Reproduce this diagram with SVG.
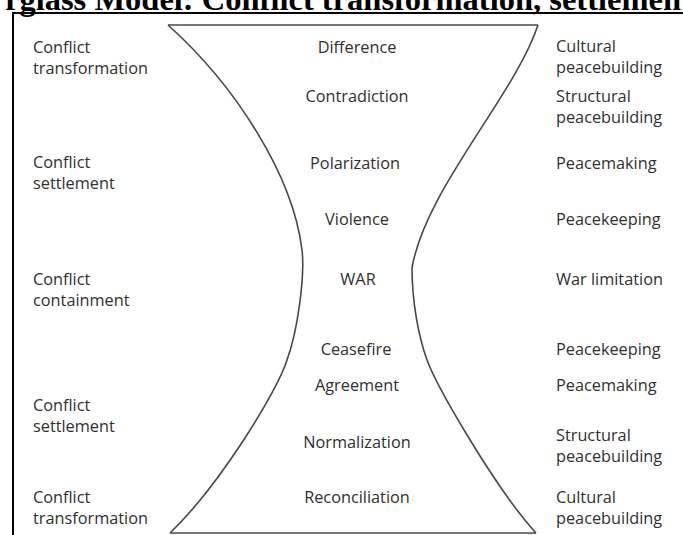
<svg xmlns="http://www.w3.org/2000/svg" width="683" height="535" viewBox="0 0 683 535">
<style>
.t{font-family:"Open Sans","Noto Sans",sans-serif;font-size:16.3px;fill:#303030}
.c{text-anchor:middle}
.title{font-family:"Liberation Serif","Times New Roman",serif;font-weight:bold;font-size:32.5px;fill:#000}
.hg{fill:none;stroke:#484848;stroke-width:1.6}
</style>
<rect width="683" height="535" fill="#fff"/>
<text class="title" x="5" y="10">rglass Model: Conflict transformation, settlemen</text>
<rect x="13" y="13" width="700" height="540" fill="none" stroke="#000" stroke-width="2"/>
<g id="hourglass">
<path class="hg" d="M168,25 L538,25"/>
<path class="hg" d="M170,533 L536,533"/>
<path class="hg" d="M168,25 C235,85 293,175 302,250 C305,275 298,330 287,360 C278,390 220,485 170,533"/>
<path class="hg" d="M538,25 C515,95 425,190 412,268 C412,300 418,335 427,360 C436,385 495,488 536,533"/>
</g>
<g id="left-labels">
<text class="t" x="33" y="53">Conflict</text>
<text class="t" x="33" y="74">transformation</text>
<text class="t" x="33" y="168">Conflict</text>
<text class="t" x="33" y="189">settlement</text>
<text class="t" x="33" y="285">Conflict</text>
<text class="t" x="33" y="306">containment</text>
<text class="t" x="33" y="411">Conflict</text>
<text class="t" x="33" y="432">settlement</text>
<text class="t" x="33" y="503">Conflict</text>
<text class="t" x="33" y="524">transformation</text>
</g>
<g id="center-labels">
<text class="t c" x="357" y="53">Difference</text>
<text class="t c" x="357" y="102">Contradiction</text>
<text class="t c" x="355" y="169">Polarization</text>
<text class="t c" x="357" y="225">Violence</text>
<text class="t c" x="358" y="285">WAR</text>
<text class="t c" x="356" y="355">Ceasefire</text>
<text class="t c" x="357" y="391">Agreement</text>
<text class="t c" x="357" y="448">Normalization</text>
<text class="t c" x="357" y="503">Reconciliation</text>
</g>
<g id="right-labels">
<text class="t" x="556" y="52">Cultural</text>
<text class="t" x="556" y="73">peacebuilding</text>
<text class="t" x="556" y="102">Structural</text>
<text class="t" x="556" y="123">peacebuilding</text>
<text class="t" x="556" y="169">Peacemaking</text>
<text class="t" x="556" y="225">Peacekeeping</text>
<text class="t" x="556" y="285">War limitation</text>
<text class="t" x="556" y="355">Peacekeeping</text>
<text class="t" x="556" y="391">Peacemaking</text>
<text class="t" x="556" y="441">Structural</text>
<text class="t" x="556" y="462">peacebuilding</text>
<text class="t" x="556" y="503">Cultural</text>
<text class="t" x="556" y="524">peacebuilding</text>
</g>
</svg>
